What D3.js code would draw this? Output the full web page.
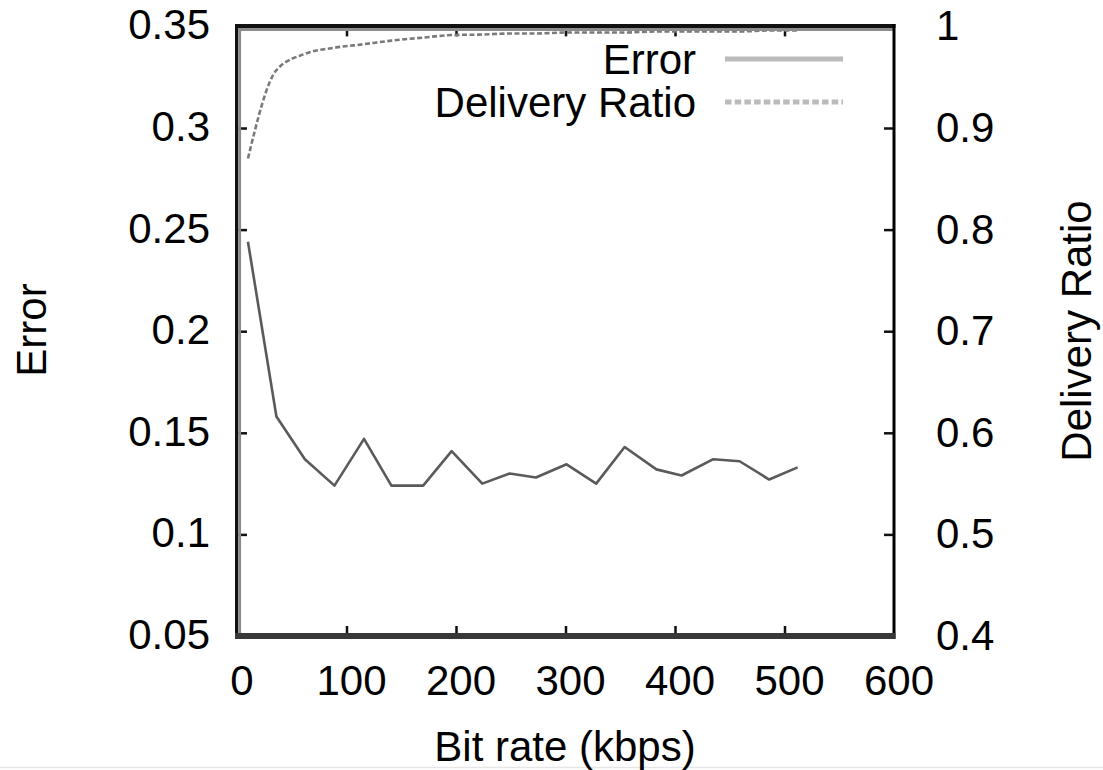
<!DOCTYPE html>
<html><head><meta charset="utf-8">
<script src="https://cdn.jsdelivr.net/npm/d3@7"></script>
<style>body{margin:0;background:#fff}svg{display:block}text{font-family:"Liberation Sans",Arial,sans-serif;fill:#000}</style>
</head><body>
<svg id="c" width="1103" height="770"></svg>
<script>
const bitRates = [10, 36, 62, 89, 116, 141, 170, 196, 224, 249, 273, 301, 328, 354, 383, 406, 435, 459, 486, 512];
const errorValues = [0.244, 0.158, 0.137, 0.124, 0.147, 0.124, 0.124, 0.141, 0.125, 0.130, 0.128, 0.1345, 0.125, 0.143, 0.132, 0.129, 0.137, 0.136, 0.127, 0.133];
const deliveryValues = [0.870, 0.957, 0.973, 0.979, 0.9825, 0.986, 0.989, 0.9915, 0.992, 0.993, 0.993, 0.994, 0.994, 0.994, 0.995, 0.995, 0.995, 0.995, 0.996, 0.996];
const xTicks = [0, 100, 200, 300, 400, 500, 600];
const yTicks = [0.05, 0.1, 0.15, 0.2, 0.25, 0.3, 0.35];
const y2Ticks = [0.4, 0.5, 0.6, 0.7, 0.8, 0.9, 1];
const seriesNames = ["Error", "Delivery Ratio"];

const svg = d3.select("#c");
const L = 237, R = 894, T = 26.4, B = 636;
const x = d3.scaleLinear().domain([0, 600]).range([L, R]);
const y = d3.scaleLinear().domain([0.05, 0.35]).range([B, T]);
const y2 = d3.scaleLinear().domain([0.4, 1]).range([B, T]);
const FS = 42;

// faint bottom rule of the original image
svg.append("line").attr("x1", 0).attr("x2", 1103).attr("y1", 767.5).attr("y2", 767.5).attr("stroke", "#e6e6e6").attr("stroke-width", 1.5);

// ticks (inward) via axes
const tickLen = 10;
const gx = svg.append("g").attr("transform", `translate(0,${B})`)
  .call(d3.axisTop(x).tickValues(xTicks.slice(1, -1)).tickSize(tickLen).tickFormat(""));
const gxt = svg.append("g").attr("transform", `translate(0,${T})`)
  .call(d3.axisBottom(x).tickValues(xTicks.slice(1, -1)).tickSize(tickLen).tickFormat(""));
const gy = svg.append("g").attr("transform", `translate(${L},0)`)
  .call(d3.axisRight(y).tickValues(yTicks.slice(1, -1)).tickSize(tickLen).tickFormat(""));
const gy2 = svg.append("g").attr("transform", `translate(${R},0)`)
  .call(d3.axisLeft(y2).tickValues(y2Ticks.slice(1, -1)).tickSize(tickLen).tickFormat(""));
[gx, gxt, gy, gy2].forEach(g => {
  g.select(".domain").remove();
  g.selectAll(".tick line").attr("stroke", "#111").attr("stroke-width", 2.5);
});

// tick labels
svg.append("g").selectAll("text").data(xTicks).join("text")
  .attr("x", d => x(d) + 5).attr("y", 695).attr("text-anchor", "middle")
  .attr("font-size", FS).text(d => d);
svg.append("g").selectAll("text").data(yTicks).join("text")
  .attr("x", 210).attr("y", d => y(d) + 13).attr("text-anchor", "end")
  .attr("font-size", FS).text(d => d);
svg.append("g").selectAll("text").data(y2Ticks).join("text")
  .attr("x", 936).attr("y", d => y2(d) + 14).attr("text-anchor", "start")
  .attr("font-size", FS).text(d => d);

// axis titles
svg.append("text").attr("x", 565).attr("y", 761).attr("text-anchor", "middle").attr("font-size", FS).text("Bit rate (kbps)");
svg.append("text").attr("transform", "translate(46,330) rotate(-90)").attr("text-anchor", "middle").attr("font-size", FS).text("Error");
svg.append("text").attr("transform", "translate(1091,331) rotate(-90)").attr("text-anchor", "middle").attr("font-size", FS).text("Delivery Ratio");

// data lines
const lineErr = d3.line().x((d, i) => x(bitRates[i])).y(d => y(d));
const lineDel = d3.line().x((d, i) => x(bitRates[i])).y(d => y2(d)).curve(d3.curveMonotoneX);
svg.append("path").datum(errorValues).attr("d", lineErr).attr("fill", "none")
  .attr("stroke", "#5a5a5a").attr("stroke-width", 2.6).attr("stroke-linejoin", "round");
svg.append("path").datum(deliveryValues).attr("d", lineDel).attr("fill", "none")
  .attr("stroke", "#7a7a7a").attr("stroke-width", 2.6).attr("stroke-dasharray", "5,2.5");

// frame
svg.append("line").attr("x1", L - 2).attr("x2", R + 1.5).attr("y1", 26).attr("y2", 26).attr("stroke", "#111").attr("stroke-width", 4);
svg.append("line").attr("x1", L + 2).attr("x2", R).attr("y1", 29.5).attr("y2", 29.5).attr("stroke", "#8c8c8c").attr("stroke-width", 3);
svg.append("line").attr("x1", 236.5).attr("x2", 236.5).attr("y1", 24).attr("y2", 639).attr("stroke", "#111").attr("stroke-width", 3);
svg.append("line").attr("x1", 239.6).attr("x2", 239.6).attr("y1", 28).attr("y2", 633).attr("stroke", "#8c8c8c").attr("stroke-width", 3);
svg.append("line").attr("x1", R).attr("x2", R).attr("y1", 24).attr("y2", 639).attr("stroke", "#000").attr("stroke-width", 3);
svg.append("line").attr("x1", L - 2).attr("x2", R + 1.5).attr("y1", 636).attr("y2", 636).attr("stroke", "#383838").attr("stroke-width", 6);

// legend
const leg = svg.append("g");
const legY = [59, 102];
leg.selectAll("text").data(seriesNames).join("text")
  .attr("x", 696).attr("y", (d, i) => legY[i] + 15).attr("text-anchor", "end")
  .attr("font-size", FS).text(d => d);
leg.selectAll("line").data(seriesNames).join("line")
  .attr("x1", 725).attr("x2", 843).attr("y1", (d, i) => legY[i]).attr("y2", (d, i) => legY[i])
  .attr("stroke", "#bbb").attr("stroke-width", 5)
  .attr("stroke-dasharray", (d, i) => i === 1 ? "6.5,3.2" : null);
</script>
</body></html>
